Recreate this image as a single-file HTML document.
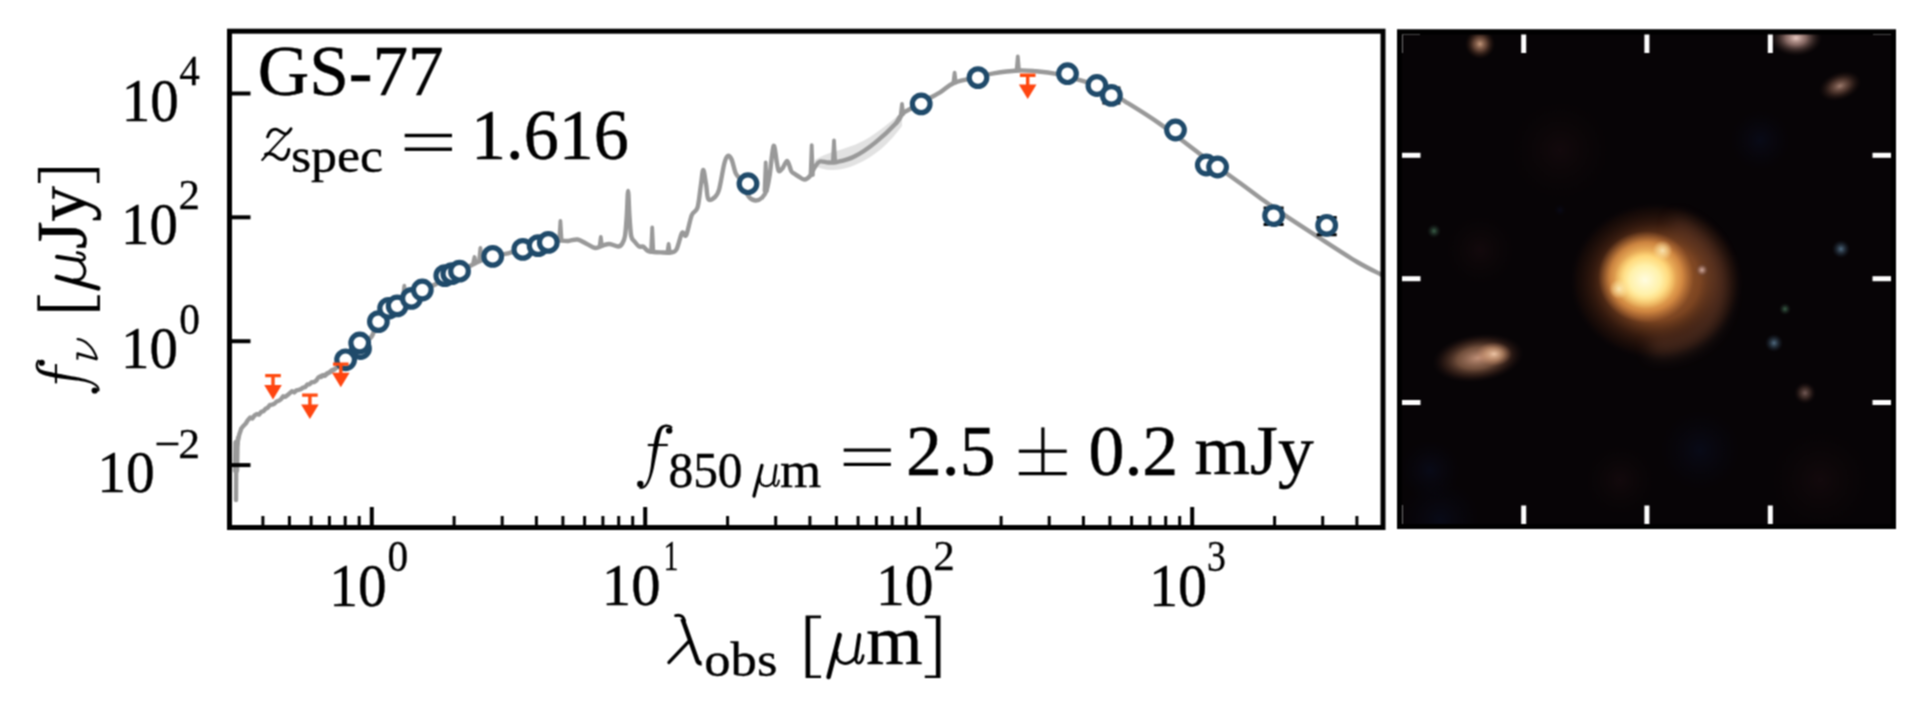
<!DOCTYPE html><html><head><meta charset="utf-8"><style>html,body{margin:0;padding:0;background:#fff;width:1920px;height:704px;overflow:hidden}svg{display:block}text{font-family:"Liberation Serif",serif;fill:#000}</style></head><body>
<svg width="1920" height="704" viewBox="0 0 1920 704">
<defs><filter id="soft" filterUnits="userSpaceOnUse" x="0" y="0" width="1920" height="704" color-interpolation-filters="sRGB"><feConvolveMatrix order="3" kernelMatrix="1 2 1 2 4 2 1 2 1" divisor="16" edgeMode="duplicate"/></filter></defs><g filter="url(#soft)"><rect x="0" y="0" width="1920" height="704" fill="#fff"/>
<path d="M815 160 C830 150 850 150 870 137 C885 127 895 118 902 112 L902 126 C890 142 875 158 850 167 C835 172 822 170 815 166 Z" fill="#e2e2e2"/>
<path d="M237.0 445.3 L239.2 434.8 L241.4 428.3 L243.6 425.7 L245.8 423.5 L248.0 419.9 L250.2 417.6 L252.4 418.4 L254.6 415.4 L256.8 414.0 L259.0 414.6 L261.2 411.8 L263.4 411.2 L265.6 408.8 L267.8 407.7 L270.0 404.9 L272.2 404.6 L274.4 403.7 L276.6 401.5 L278.8 400.7 L281.0 399.2 L283.2 396.3 L285.4 396.8 L287.6 395.1 L289.8 393.1 L292.0 391.3 L294.2 392.4 L296.4 390.3 L298.6 389.8 L300.8 389.2 L303.0 387.6 L305.2 387.1 L307.4 384.5 L309.6 384.3 L311.8 382.1 L314.0 382.1 L316.2 380.7 L318.4 377.4 L320.6 376.3 L322.8 375.2 L325.0 375.9 L327.2 373.3 L329.4 372.5 L331.6 370.4 L333.8 369.7" fill="none" stroke="#999999" stroke-width="4.4" stroke-linejoin="round" stroke-linecap="round"/>
<path d="M236 500 L236.3 450 L238 438" fill="none" stroke="#999999" stroke-width="4.4" stroke-linecap="round"/>
<path d="M236 470 L236.5 443" fill="none" stroke="#999999" stroke-width="6.5" stroke-linecap="round"/>
<path d="M321.0 377.0 C323.2 375.8 329.8 372.4 334.0 369.6 C338.2 366.8 342.0 363.6 346.0 360.0 C350.0 356.4 354.7 351.2 358.0 348.0 C361.3 344.8 363.7 343.0 366.0 341.0 C368.3 339.0 370.0 339.3 372.0 336.0 C374.0 332.7 375.2 325.5 378.0 321.0 C380.8 316.5 385.8 311.7 389.0 309.0 C392.2 306.3 393.3 306.8 397.0 305.0 C400.7 303.2 406.8 300.5 411.0 298.0 C415.2 295.5 417.8 292.3 422.0 290.0 C426.2 287.7 432.2 286.3 436.0 284.0 C439.8 281.7 441.0 278.2 445.0 276.0 C449.0 273.8 454.8 273.2 460.0 271.0 C465.2 268.8 470.5 265.5 476.0 263.0 C481.5 260.5 487.7 257.6 493.0 256.0 C498.3 254.4 503.0 254.6 508.0 253.4 C513.0 252.2 518.0 250.2 523.0 249.0 C528.0 247.8 533.8 247.2 538.0 246.0 C542.2 244.8 545.0 242.9 548.0 242.0 C551.0 241.1 553.9 240.8 556.0 240.5 C558.1 240.2 559.7 240.1 560.4 240.0" fill="none" stroke="#999999" stroke-width="4.4" stroke-linejoin="round" stroke-linecap="round"/>
<path d="M560.4 240.5 C561.7 240.6 565.5 241.2 568.4 241.0 C571.3 240.8 574.5 239.0 577.6 239.5 C580.7 240.0 583.9 242.6 586.9 244.0 C589.9 245.4 592.7 247.8 595.4 248.0 C598.1 248.2 600.8 246.0 603.2 245.3 C605.6 244.6 607.1 243.8 609.6 244.0 C612.1 244.2 616.0 246.5 618.1 246.5 C620.2 246.5 620.9 245.8 622.0 244.0 C623.1 242.2 624.2 240.8 625.0 236.0 C625.8 231.2 626.3 222.5 626.8 215.0 C627.3 207.5 627.7 191.0 628.1 191.0 C628.5 191.0 628.9 207.5 629.4 215.0 C629.9 222.5 630.4 231.6 631.2 236.0 C632.1 240.4 633.1 239.7 634.5 241.5 C635.9 243.3 638.0 245.9 639.4 246.7 C640.8 247.5 641.6 245.8 643.0 246.5 C644.4 247.2 646.2 250.1 648.0 251.0 C649.8 251.9 651.5 251.8 653.6 252.0 C655.7 252.2 657.9 252.3 660.7 252.4 C663.6 252.5 668.1 253.0 670.7 252.5 C673.3 252.0 674.5 252.8 676.4 249.5 C678.3 246.2 680.4 235.4 682.0 233.0 C683.6 230.6 684.7 238.0 686.3 235.0 C687.9 232.0 689.9 219.6 691.8 215.0 C693.7 210.4 696.0 212.7 697.5 207.7 C699.0 202.7 699.9 191.3 700.9 185.0 C701.9 178.7 702.4 170.2 703.2 170.0 C704.1 169.8 705.1 179.2 706.0 184.0 C706.9 188.8 706.9 196.8 708.3 199.0 C709.7 201.2 712.7 199.1 714.5 197.5 C716.3 195.9 717.5 195.1 719.1 189.5 C720.7 183.9 722.8 169.6 724.2 164.0 C725.6 158.4 726.4 156.8 727.6 156.0 C728.8 155.2 730.3 156.7 731.6 159.5 C732.9 162.3 734.3 169.8 735.6 173.0 C736.9 176.2 737.3 174.6 739.5 178.5 C741.7 182.4 745.9 192.8 748.6 196.5 C751.3 200.2 753.2 200.3 755.5 200.5 C757.8 200.7 760.4 199.3 762.3 197.5 C764.2 195.7 765.6 193.2 766.8 189.5 C768.0 185.8 768.6 182.2 769.7 175.0 C770.8 167.8 772.4 147.9 773.6 146.0 C774.8 144.1 776.1 159.2 777.0 163.4 C777.9 167.6 777.8 170.2 778.8 171.0 C779.7 171.8 781.3 169.7 782.7 168.0 C784.1 166.3 785.9 160.5 787.3 161.0 C788.7 161.5 790.1 168.9 791.2 171.0 C792.4 173.1 792.9 172.7 794.1 173.6 C795.3 174.5 796.9 175.5 798.6 176.5 C800.3 177.5 802.4 179.6 804.3 179.5 C806.2 179.4 808.2 178.1 810.0 176.0 C811.8 173.9 813.3 169.4 814.9 167.0 C816.5 164.6 817.5 162.2 819.8 161.5 C822.0 160.8 825.5 162.4 828.4 162.5 C831.2 162.6 832.6 162.9 836.9 162.0 C841.1 161.1 847.5 160.0 853.9 156.8 C860.3 153.6 868.1 148.3 875.2 142.6 C882.3 136.9 892.0 127.5 896.5 122.7 C901.0 117.9 901.1 115.5 902.0 114.0" fill="none" stroke="#999999" stroke-width="4.4" stroke-linejoin="round" stroke-linecap="round"/>
<path d="M896.5 122.7 C897.4 121.2 899.4 116.5 902.0 114.0 C904.6 111.5 908.8 109.9 912.0 108.0 C915.2 106.1 916.6 105.1 921.2 102.5 C925.8 99.9 934.1 95.9 939.7 92.6 C945.3 89.3 948.2 85.2 954.6 82.6 C961.0 80.0 971.5 78.5 978.0 77.0 C984.5 75.5 987.0 74.5 993.6 73.4 C1000.2 72.3 1010.7 70.9 1017.8 70.5 C1024.9 70.1 1029.6 70.7 1036.2 71.2 C1042.9 71.8 1050.5 72.7 1057.6 74.1 C1064.7 75.5 1071.8 77.7 1078.9 79.8 C1086.0 81.9 1092.2 83.2 1100.0 86.9 C1107.8 90.6 1115.8 95.7 1125.7 101.8 C1135.6 107.9 1147.3 115.0 1159.6 123.6 C1171.9 132.2 1185.9 143.6 1199.3 153.5 C1212.7 163.4 1229.3 175.2 1240.0 183.0 C1250.7 190.8 1255.6 194.7 1263.4 200.3 C1271.2 205.9 1277.8 210.6 1286.9 216.7 C1296.0 222.8 1306.3 229.4 1318.0 237.0 C1329.7 244.6 1346.7 255.8 1357.2 262.0 C1367.7 268.2 1377.0 272.4 1381.0 274.5" fill="none" stroke="#999999" stroke-width="4.4" stroke-linejoin="round" stroke-linecap="round"/>
<path d="M403.1 295.0 L404.3 285.7 L405.5 295.0 M473.3 262.0 L474.5 257.0 L475.7 262.0 M479.2 259.0 L480.4 248.0 L481.6 259.0 M559.2 240.0 L560.4 221.0 L561.6 240.0 M599.6 246.0 L600.8 237.0 L602.0 246.0 M651.0 252.0 L652.2 227.5 L653.4 252.0 M667.4 252.0 L668.6 244.0 L669.8 252.0 M764.5 191.0 L765.7 162.3 L766.9 191.0 M810.5 175.0 L811.7 145.2 L812.9 175.0 M832.8 162.0 L834.0 140.5 L835.2 162.0 M900.8 114.0 L902.0 104.0 L903.2 114.0 M953.4 82.6 L954.6 72.7 L955.8 82.6 M1016.6 70.5 L1017.8 56.3 L1019.0 70.5 " fill="none" stroke="#999999" stroke-width="3.8" stroke-linejoin="round" stroke-linecap="round"/>
<rect x="229.5" y="31.2" width="1153.5" height="496.3" fill="none" stroke="#000" stroke-width="5"/>
<line x1="228.7" y1="527" x2="228.7" y2="516" stroke="#000" stroke-width="3"/><line x1="262.9" y1="527" x2="262.9" y2="516" stroke="#000" stroke-width="3"/><line x1="289.4" y1="527" x2="289.4" y2="516" stroke="#000" stroke-width="3"/><line x1="311.1" y1="527" x2="311.1" y2="516" stroke="#000" stroke-width="3"/><line x1="329.4" y1="527" x2="329.4" y2="516" stroke="#000" stroke-width="3"/><line x1="345.2" y1="527" x2="345.2" y2="516" stroke="#000" stroke-width="3"/><line x1="359.2" y1="527" x2="359.2" y2="516" stroke="#000" stroke-width="3"/><line x1="371.8" y1="527" x2="371.8" y2="507" stroke="#000" stroke-width="4"/><line x1="454.1" y1="527" x2="454.1" y2="516" stroke="#000" stroke-width="3"/><line x1="502.2" y1="527" x2="502.2" y2="516" stroke="#000" stroke-width="3"/><line x1="536.4" y1="527" x2="536.4" y2="516" stroke="#000" stroke-width="3"/><line x1="562.9" y1="527" x2="562.9" y2="516" stroke="#000" stroke-width="3"/><line x1="584.6" y1="527" x2="584.6" y2="516" stroke="#000" stroke-width="3"/><line x1="602.9" y1="527" x2="602.9" y2="516" stroke="#000" stroke-width="3"/><line x1="618.7" y1="527" x2="618.7" y2="516" stroke="#000" stroke-width="3"/><line x1="632.7" y1="527" x2="632.7" y2="516" stroke="#000" stroke-width="3"/><line x1="645.2" y1="527" x2="645.2" y2="507" stroke="#000" stroke-width="4"/><line x1="727.6" y1="527" x2="727.6" y2="516" stroke="#000" stroke-width="3"/><line x1="775.7" y1="527" x2="775.7" y2="516" stroke="#000" stroke-width="3"/><line x1="809.9" y1="527" x2="809.9" y2="516" stroke="#000" stroke-width="3"/><line x1="836.4" y1="527" x2="836.4" y2="516" stroke="#000" stroke-width="3"/><line x1="858.1" y1="527" x2="858.1" y2="516" stroke="#000" stroke-width="3"/><line x1="876.4" y1="527" x2="876.4" y2="516" stroke="#000" stroke-width="3"/><line x1="892.2" y1="527" x2="892.2" y2="516" stroke="#000" stroke-width="3"/><line x1="906.2" y1="527" x2="906.2" y2="516" stroke="#000" stroke-width="3"/><line x1="918.8" y1="527" x2="918.8" y2="507" stroke="#000" stroke-width="4"/><line x1="1001.1" y1="527" x2="1001.1" y2="516" stroke="#000" stroke-width="3"/><line x1="1049.2" y1="527" x2="1049.2" y2="516" stroke="#000" stroke-width="3"/><line x1="1083.4" y1="527" x2="1083.4" y2="516" stroke="#000" stroke-width="3"/><line x1="1109.9" y1="527" x2="1109.9" y2="516" stroke="#000" stroke-width="3"/><line x1="1131.6" y1="527" x2="1131.6" y2="516" stroke="#000" stroke-width="3"/><line x1="1149.9" y1="527" x2="1149.9" y2="516" stroke="#000" stroke-width="3"/><line x1="1165.7" y1="527" x2="1165.7" y2="516" stroke="#000" stroke-width="3"/><line x1="1179.7" y1="527" x2="1179.7" y2="516" stroke="#000" stroke-width="3"/><line x1="1192.2" y1="527" x2="1192.2" y2="507" stroke="#000" stroke-width="4"/><line x1="1274.6" y1="527" x2="1274.6" y2="516" stroke="#000" stroke-width="3"/><line x1="1322.7" y1="527" x2="1322.7" y2="516" stroke="#000" stroke-width="3"/><line x1="1356.9" y1="527" x2="1356.9" y2="516" stroke="#000" stroke-width="3"/><line x1="1383.4" y1="527" x2="1383.4" y2="516" stroke="#000" stroke-width="3"/><line x1="231" y1="465.1" x2="250.5" y2="465.1" stroke="#000" stroke-width="4"/><line x1="231" y1="341.2" x2="250.5" y2="341.2" stroke="#000" stroke-width="4"/><line x1="231" y1="217.3" x2="250.5" y2="217.3" stroke="#000" stroke-width="4"/><line x1="231" y1="93.5" x2="250.5" y2="93.5" stroke="#000" stroke-width="4"/>
<text transform="matrix(1.0000 0 0 1.0000 0.30 -0.25) matrix(0.5708 0 0 0.6103 121.33 120.78)" x="0" y="0" font-size="100" stroke="#000" stroke-width="0.7" >10</text>
<text transform="matrix(1.0000 0 0 1.0000 0.05 0.00) matrix(0.4106 0 0 0.4303 179.08 84.77)" x="0" y="0" font-size="100" stroke="#000" stroke-width="0.7" >4</text>
<text transform="matrix(1.0000 0 0 1.0000 -0.30 -0.60) matrix(0.5685 0 0 0.5971 121.35 244.51)" x="0" y="0" font-size="100" stroke="#000" stroke-width="0.7" >10</text>
<text transform="matrix(1.0000 0 0 1.0000 -0.20 0.18) matrix(0.4293 0 0 0.4157 178.78 208.68)" x="0" y="0" font-size="100" stroke="#000" stroke-width="0.7" >2</text>
<text transform="matrix(1.0000 0 0 1.0000 -0.30 -1.05) matrix(0.5685 0 0 0.6015 121.35 368.70)" x="0" y="0" font-size="100" stroke="#000" stroke-width="0.7" >10</text>
<text transform="matrix(1.0000 0 0 1.0357 -0.40 -11.29) matrix(0.4136 0 0 0.4265 179.76 333.25)" x="0" y="0" font-size="100" stroke="#000" stroke-width="0.7" >0</text>
<text transform="matrix(1.0000 0 0 1.0000 0.00 -0.70) matrix(0.5753 0 0 0.5971 97.30 492.41)" x="0" y="0" font-size="100" stroke="#000" stroke-width="0.7" >10</text>
<text transform="matrix(1.0000 0 0 1.0000 0.25 -0.10) matrix(0.4366 0 0 0.4239 178.05 457.68)" x="0" y="0" font-size="100" stroke="#000" stroke-width="0.7" >2</text>
<text transform="matrix(1.0000 0 0 1.0000 -0.25 0.20) matrix(0.5742 0 0 0.6059 329.61 605.59)" x="0" y="0" font-size="100" stroke="#000" stroke-width="0.7" >10</text>
<text transform="matrix(1.0000 0 0 1.0357 -0.60 -19.66) matrix(0.4136 0 0 0.4265 388.06 569.85)" x="0" y="0" font-size="100" stroke="#000" stroke-width="0.7" >0</text>
<text transform="matrix(1.0220 0 0 1.0000 -14.38 -0.45) matrix(0.5742 0 0 0.6015 602.91 605.30)" x="0" y="0" font-size="100" stroke="#000" stroke-width="0.7" >10</text>
<text transform="matrix(1.0000 0 0 1.0000 -0.10 -0.30) matrix(0.3000 0 0 0.4212 663.60 570.10)" x="0" y="0" font-size="100" stroke="#000" stroke-width="0.7" >1</text>
<text transform="matrix(1.0000 0 0 1.0000 -0.15 -0.45) matrix(0.5742 0 0 0.6015 876.21 605.30)" x="0" y="0" font-size="100" stroke="#000" stroke-width="0.7" >10</text>
<text transform="matrix(1.0000 0 0 1.0000 -0.35 0.20) matrix(0.4317 0 0 0.4149 933.57 569.69)" x="0" y="0" font-size="100" stroke="#000" stroke-width="0.7" >2</text>
<text transform="matrix(1.0000 0 0 1.0000 -0.05 0.20) matrix(0.5809 0 0 0.6059 1148.95 605.59)" x="0" y="0" font-size="100" stroke="#000" stroke-width="0.7" >10</text>
<text transform="matrix(1.0000 0 0 1.0000 -0.75 0.70) matrix(0.3786 0 0 0.4328 1207.79 570.27)" x="0" y="0" font-size="100" stroke="#000" stroke-width="0.7" >3</text>
<text transform="matrix(1.0000 0 0 0.9622 0.20 24.92) matrix(0.5263 0 0 0.5086 704.12 676.29)" x="0" y="0" font-size="100" stroke="#000" stroke-width="0.7" >obs</text>
<text transform="matrix(1.0000 0 0 1.0000 0.15 -0.40) matrix(0.7240 0 0 0.7064 866.05 664.20)" x="0" y="0" font-size="100" stroke="#000" stroke-width="0.7" >m</text>
<text transform="matrix(1.0000 0 0 1.0000 -0.30 0.15) rotate(-90) matrix(0.7092 0 0 0.7279 -248.92 86.21)" x="0" y="0" font-size="100" stroke="#000" stroke-width="0.7" >Jy</text>
<text transform="matrix(1.0000 0 0 0.9765 0.20 1.56) matrix(0.7122 0 0 0.7324 257.55 95.34)" x="0" y="0" font-size="100" stroke="#000" stroke-width="0.7" >GS-77</text>
<text transform="matrix(1.0000 0 0 1.0000 0.20 0.20) matrix(0.5193 0 0 0.4882 290.72 171.55)" x="0" y="0" font-size="100" stroke="#000" stroke-width="0.7" >spec</text>
<text transform="matrix(1.0000 0 0 1.0000 -0.40 -0.55) matrix(0.7019 0 0 0.7279 471.39 159.24)" x="0" y="0" font-size="100" stroke="#000" stroke-width="0.7" >1.616</text>
<text transform="matrix(1.0000 0 0 1.0000 0.00 -0.15) matrix(0.4944 0 0 0.5074 668.42 487.09)" x="0" y="0" font-size="100" stroke="#000" stroke-width="0.7" >850</text>
<text transform="matrix(1.0000 0 0 1.0000 -0.50 -0.60) matrix(0.5307 0 0 0.5149 780.54 487.50)" x="0" y="0" font-size="100" stroke="#000" stroke-width="0.7" >m</text>
<text transform="matrix(1.0000 0 0 0.9706 0.15 13.20) matrix(0.7154 0 0 0.7388 905.94 475.46)" x="0" y="0" font-size="100" stroke="#000" stroke-width="0.7" >2.5</text>
<text transform="matrix(1.0000 0 0 1.0000 -0.43 0.30) matrix(0.7175 0 0 0.7235 1088.95 474.45)" x="0" y="0" font-size="100" stroke="#000" stroke-width="0.7" >0.2</text>
<text transform="matrix(1.0000 0 0 0.9677 -0.55 14.16) matrix(0.7145 0 0 0.7314 1195.07 474.94)" x="0" y="0" font-size="100" stroke="#000" stroke-width="0.7" >mJy</text>
<g transform="translate(636.6 424.1)"><path d="M36.03 3.32 L35.74 2.91 L35.36 2.48 L34.93 2.09 L34.47 1.75 L33.96 1.45 L33.42 1.19 L32.85 0.97 L32.26 0.79 L31.65 0.65 L31.02 0.55 L30.37 0.49 L29.71 0.47 L29.04 0.50 L28.36 0.57 L27.68 0.69 L26.99 0.86 L26.30 1.09 L25.62 1.37 L24.95 1.72 L24.30 2.13 L23.67 2.61 L23.06 3.16 L22.49 3.79 L21.99 4.46 L21.53 5.16 L21.08 5.98 L20.65 6.89 L20.24 7.89 L19.84 8.98 L19.45 10.16 L19.07 11.42 L18.71 12.77 L18.36 14.20 L18.02 15.69 L17.69 17.26 L17.38 18.89 L17.08 20.58 L16.79 22.32 L16.51 24.12 L16.24 25.95 L15.98 27.83 L15.72 29.74 L15.47 31.68 L15.23 33.65 L14.99 35.63 L14.75 37.63 L14.50 39.63 L14.27 41.63 L14.02 43.45 L13.74 45.21 L13.45 46.89 L13.13 48.50 L12.78 50.04 L12.41 51.49 L12.02 52.87 L11.61 54.16 L11.18 55.37 L10.72 56.49 L10.25 57.53 L9.76 58.47 L9.26 59.32 L8.74 60.07 L8.21 60.72 L7.68 61.28 L7.14 61.74 L6.60 62.10 L6.06 62.38 L5.52 62.56 L4.98 62.66 L4.42 62.68 L3.83 62.61 L3.16 62.43 L2.64 64.37 L3.45 64.58 L4.32 64.69 L5.18 64.67 L6.02 64.53 L6.84 64.26 L7.62 63.88 L8.37 63.40 L9.09 62.82 L9.77 62.14 L10.43 61.37 L11.06 60.52 L11.66 59.58 L12.25 58.56 L12.82 57.46 L13.36 56.27 L13.89 55.01 L14.41 53.66 L14.90 52.24 L15.38 50.75 L15.85 49.18 L16.29 47.53 L16.73 45.82 L17.14 44.03 L17.53 42.17 L17.92 40.17 L18.30 38.19 L18.69 36.22 L19.07 34.26 L19.45 32.33 L19.83 30.42 L20.21 28.54 L20.58 26.70 L20.94 24.90 L21.29 23.14 L21.64 21.43 L21.97 19.78 L22.30 18.19 L22.61 16.67 L22.92 15.22 L23.21 13.84 L23.50 12.55 L23.77 11.34 L24.04 10.23 L24.30 9.22 L24.54 8.32 L24.78 7.54 L25.00 6.88 L25.21 6.34 L25.45 5.82 L25.70 5.37 L25.99 4.95 L26.31 4.56 L26.67 4.21 L27.06 3.90 L27.47 3.62 L27.91 3.38 L28.38 3.18 L28.85 3.02 L29.34 2.90 L29.84 2.83 L30.33 2.79 L30.82 2.79 L31.30 2.82 L31.77 2.90 L32.21 3.00 L32.62 3.14 L33.01 3.30 L33.36 3.49 L33.66 3.70 L33.93 3.93 L34.15 4.17 L34.37 4.48 Z" fill="#000"/><circle cx="32.60" cy="6.50" r="3.2" fill="#000"/><circle cx="3.70" cy="59.90" r="3.2" fill="#000"/><rect x="11.20" y="19.80" width="20" height="2.2" fill="#000"/></g>
<g transform="rotate(-90) translate(-394.1 35.2) scale(0.9614 0.9939)"><path d="M36.03 3.32 L35.74 2.91 L35.36 2.48 L34.93 2.09 L34.47 1.75 L33.96 1.45 L33.42 1.19 L32.85 0.97 L32.26 0.79 L31.65 0.65 L31.02 0.55 L30.37 0.49 L29.71 0.47 L29.04 0.50 L28.36 0.57 L27.68 0.69 L26.99 0.86 L26.30 1.09 L25.62 1.37 L24.95 1.72 L24.30 2.13 L23.67 2.61 L23.06 3.16 L22.49 3.79 L21.99 4.46 L21.53 5.16 L21.08 5.98 L20.65 6.89 L20.24 7.89 L19.84 8.98 L19.45 10.16 L19.07 11.42 L18.71 12.77 L18.36 14.20 L18.02 15.69 L17.69 17.26 L17.38 18.89 L17.08 20.58 L16.79 22.32 L16.51 24.12 L16.24 25.95 L15.98 27.83 L15.72 29.74 L15.47 31.68 L15.23 33.65 L14.99 35.63 L14.75 37.63 L14.50 39.63 L14.27 41.63 L14.02 43.45 L13.74 45.21 L13.45 46.89 L13.13 48.50 L12.78 50.04 L12.41 51.49 L12.02 52.87 L11.61 54.16 L11.18 55.37 L10.72 56.49 L10.25 57.53 L9.76 58.47 L9.26 59.32 L8.74 60.07 L8.21 60.72 L7.68 61.28 L7.14 61.74 L6.60 62.10 L6.06 62.38 L5.52 62.56 L4.98 62.66 L4.42 62.68 L3.83 62.61 L3.16 62.43 L2.64 64.37 L3.45 64.58 L4.32 64.69 L5.18 64.67 L6.02 64.53 L6.84 64.26 L7.62 63.88 L8.37 63.40 L9.09 62.82 L9.77 62.14 L10.43 61.37 L11.06 60.52 L11.66 59.58 L12.25 58.56 L12.82 57.46 L13.36 56.27 L13.89 55.01 L14.41 53.66 L14.90 52.24 L15.38 50.75 L15.85 49.18 L16.29 47.53 L16.73 45.82 L17.14 44.03 L17.53 42.17 L17.92 40.17 L18.30 38.19 L18.69 36.22 L19.07 34.26 L19.45 32.33 L19.83 30.42 L20.21 28.54 L20.58 26.70 L20.94 24.90 L21.29 23.14 L21.64 21.43 L21.97 19.78 L22.30 18.19 L22.61 16.67 L22.92 15.22 L23.21 13.84 L23.50 12.55 L23.77 11.34 L24.04 10.23 L24.30 9.22 L24.54 8.32 L24.78 7.54 L25.00 6.88 L25.21 6.34 L25.45 5.82 L25.70 5.37 L25.99 4.95 L26.31 4.56 L26.67 4.21 L27.06 3.90 L27.47 3.62 L27.91 3.38 L28.38 3.18 L28.85 3.02 L29.34 2.90 L29.84 2.83 L30.33 2.79 L30.82 2.79 L31.30 2.82 L31.77 2.90 L32.21 3.00 L32.62 3.14 L33.01 3.30 L33.36 3.49 L33.66 3.70 L33.93 3.93 L34.15 4.17 L34.37 4.48 Z" fill="#000"/><circle cx="32.60" cy="6.50" r="3.2" fill="#000"/><circle cx="3.70" cy="59.90" r="3.2" fill="#000"/><rect x="11.20" y="19.80" width="20" height="2.2" fill="#000"/></g>
<path d="M805.6 615.6 H821 V618.3 H810.2 V675.4 H821 V678.1 H805.6 Z" fill="#000"/>
<path d="M940.5 615.6 H924.8 V618.3 H935.9 V675.4 H924.8 V678.1 H940.5 Z" fill="#000"/>
<path d="M839.6 634.9 L828.6 677" stroke="#000" stroke-width="4.6" stroke-linecap="round" fill="none"/><path d="M836.9 651.5 C834.8 664 847.5 667.5 855.3 657.5" stroke="#000" stroke-width="3.0" fill="none"/><path d="M859.3 635 L856 657" stroke="#000" stroke-width="3.9" stroke-linecap="round" fill="none"/><path d="M856 657 C854.8 665 861.5 666 863.2 655.5" stroke="#000" stroke-width="2.7" stroke-linecap="round" fill="none"/>
<path d="M675.6 615.6 C679.8 614.6 683.2 616.2 684.6 620.6" stroke="#000" stroke-width="2.9" stroke-linecap="round" fill="none"/><path d="M682.4 618.8 L697.6 661.2 C698.4 663 700 663.4 701.6 663.2" stroke="#000" stroke-width="4.4" fill="none"/><path d="M688.6 641.6 L669 662.4" stroke="#000" stroke-width="3.4" stroke-linecap="round" fill="none"/>
<path d="M77.6 339.2 C84.5 340 93 346 96.8 358.4" stroke="#000" stroke-width="2.2" stroke-linecap="round" fill="none"/>
<path d="M77.2 353.6 L97.4 359.2" stroke="#000" stroke-width="2.7" fill="none"/>
<path d="M77.4 352.6 L77.4 359.6" stroke="#000" stroke-width="2.0" fill="none"/>
<path d="M267.6 136.8 C269.3 131 273 128.3 276.6 129.4 C280.2 130.6 283 134.3 286 133.9 C288 133.6 289.6 131 291 128.8" stroke="#000" stroke-width="3.0" stroke-linecap="round" fill="none"/>
<path d="M290.6 129.4 L262.2 160" stroke="#000" stroke-width="2.0" stroke-linecap="round" fill="none"/>
<path d="M265.6 154.4 C269.8 152.6 273.2 154 276.6 157.2 C279.6 159.8 283.2 160.4 285.6 157.6 C287.6 155.2 288.6 151.8 288.8 149.6" stroke="#000" stroke-width="3.2" stroke-linecap="round" fill="none"/>
<g transform="rotate(-90) translate(-310.70 37.30) scale(1.0000 1.0032) translate(-805.60 -615.60)"><path d="M805.6 615.6 H821 V618.3 H810.2 V675.4 H821 V678.1 H805.6 Z" fill="#000"/></g>
<g transform="rotate(-90) translate(-182.90 37.90) scale(0.9490 0.9856) translate(-924.80 -615.60)"><path d="M940.5 615.6 H924.8 V618.3 H935.9 V675.4 H924.8 V678.1 H940.5 Z" fill="#000"/></g>
<g transform="rotate(-90) translate(-291.20 54.80) scale(1.0285 0.9828) translate(-825.80 -632.80)"><path d="M839.6 634.9 L828.6 677" stroke="#000" stroke-width="4.6" stroke-linecap="round" fill="none"/><path d="M836.9 651.5 C834.8 664 847.5 667.5 855.3 657.5" stroke="#000" stroke-width="3.0" fill="none"/><path d="M859.3 635 L856 657" stroke="#000" stroke-width="3.9" stroke-linecap="round" fill="none"/><path d="M856 657 C854.8 665 861.5 666 863.2 655.5" stroke="#000" stroke-width="2.7" stroke-linecap="round" fill="none"/></g>
<g transform="translate(752.00 463.90) scale(0.7202 0.7269) translate(-825.80 -632.80)"><path d="M839.6 634.9 L828.6 677" stroke="#000" stroke-width="4.6" stroke-linecap="round" fill="none"/><path d="M836.9 651.5 C834.8 664 847.5 667.5 855.3 657.5" stroke="#000" stroke-width="3.0" fill="none"/><path d="M859.3 635 L856 657" stroke="#000" stroke-width="3.9" stroke-linecap="round" fill="none"/><path d="M856 657 C854.8 665 861.5 666 863.2 655.5" stroke="#000" stroke-width="2.7" stroke-linecap="round" fill="none"/></g>
<rect x="156.5" y="442.6" width="21.9" height="2.7" fill="#000"/>
<rect x="404.7" y="133.8" width="47.3" height="3.4" fill="#000"/><rect x="404.7" y="147.5" width="47.3" height="3.4" fill="#000"/>
<rect x="843.7" y="448.5" width="47.2" height="3.2" fill="#000"/><rect x="843.7" y="462.8" width="47.2" height="3.2" fill="#000"/>
<rect x="1018.8" y="449.6" width="47.9" height="3.2" fill="#000"/><rect x="1018.8" y="472.0" width="47.9" height="3.2" fill="#000"/><rect x="1041.3" y="427.4" width="3.2" height="46" fill="#000"/>
<path d="M1263.6 208.0 H1283.6 M1263.6 224.5 H1283.6 M1273.6 208.0 V224.5" stroke="#000" stroke-width="3" fill="none"/>
<path d="M1316.7 217.5 H1336.7 M1316.7 234.7 H1336.7 M1326.7 217.5 V234.7" stroke="#000" stroke-width="3" fill="none"/>
<path d="M1102.4 88.0 H1120.4 M1102.4 103.0 H1120.4 M1111.4 88.0 V103.0" stroke="#000" stroke-width="3" fill="none"/>
<circle cx="345.6" cy="359.8" r="8.8" fill="#fff" stroke="#1f4a6a" stroke-width="5.2"/>
<circle cx="360.5" cy="348.5" r="8.8" fill="#fff" stroke="#1f4a6a" stroke-width="5.2"/>
<circle cx="359.7" cy="343.0" r="8.8" fill="#fff" stroke="#1f4a6a" stroke-width="5.2"/>
<circle cx="378.4" cy="321.6" r="8.8" fill="#fff" stroke="#1f4a6a" stroke-width="5.2"/>
<circle cx="388.6" cy="308.3" r="8.8" fill="#fff" stroke="#1f4a6a" stroke-width="5.2"/>
<circle cx="397.2" cy="305.9" r="8.8" fill="#fff" stroke="#1f4a6a" stroke-width="5.2"/>
<circle cx="411.4" cy="298.4" r="8.8" fill="#fff" stroke="#1f4a6a" stroke-width="5.2"/>
<circle cx="422.3" cy="290.0" r="8.8" fill="#fff" stroke="#1f4a6a" stroke-width="5.2"/>
<circle cx="444.8" cy="275.6" r="8.8" fill="#fff" stroke="#1f4a6a" stroke-width="5.2"/>
<circle cx="451.8" cy="273.7" r="8.8" fill="#fff" stroke="#1f4a6a" stroke-width="5.2"/>
<circle cx="459.5" cy="271.2" r="8.8" fill="#fff" stroke="#1f4a6a" stroke-width="5.2"/>
<circle cx="492.7" cy="256.4" r="8.8" fill="#fff" stroke="#1f4a6a" stroke-width="5.2"/>
<circle cx="522.8" cy="249.4" r="8.8" fill="#fff" stroke="#1f4a6a" stroke-width="5.2"/>
<circle cx="538.1" cy="245.6" r="8.8" fill="#fff" stroke="#1f4a6a" stroke-width="5.2"/>
<circle cx="548.3" cy="242.4" r="8.8" fill="#fff" stroke="#1f4a6a" stroke-width="5.2"/>
<circle cx="748.0" cy="183.7" r="8.8" fill="#fff" stroke="#1f4a6a" stroke-width="5.2"/>
<circle cx="921.2" cy="103.9" r="8.8" fill="#fff" stroke="#1f4a6a" stroke-width="5.2"/>
<circle cx="978.0" cy="77.6" r="8.8" fill="#fff" stroke="#1f4a6a" stroke-width="5.2"/>
<circle cx="1067.5" cy="73.7" r="8.8" fill="#fff" stroke="#1f4a6a" stroke-width="5.2"/>
<circle cx="1096.9" cy="85.5" r="8.8" fill="#fff" stroke="#1f4a6a" stroke-width="5.2"/>
<circle cx="1111.4" cy="95.4" r="8.8" fill="#fff" stroke="#1f4a6a" stroke-width="5.2"/>
<circle cx="1175.5" cy="130.0" r="8.8" fill="#fff" stroke="#1f4a6a" stroke-width="5.2"/>
<circle cx="1206.3" cy="165.0" r="8.8" fill="#fff" stroke="#1f4a6a" stroke-width="5.2"/>
<circle cx="1217.6" cy="167.0" r="8.8" fill="#fff" stroke="#1f4a6a" stroke-width="5.2"/>
<circle cx="1273.6" cy="215.6" r="8.8" fill="#fff" stroke="#1f4a6a" stroke-width="5.2"/>
<circle cx="1326.7" cy="225.3" r="8.8" fill="#fff" stroke="#1f4a6a" stroke-width="5.2"/>
<path d="M265.2 375.6 H280.8 M273.0 375.6 V388.8" stroke="#ff4a0f" stroke-width="3.4" fill="none"/>
<path d="M264.2 385.0 L281.8 385.0 L273.0 399.6 Z" fill="#ff4510"/>
<path d="M302.1 395.1 H317.7 M309.9 395.1 V408.3" stroke="#ff4a0f" stroke-width="3.4" fill="none"/>
<path d="M301.1 404.5 L318.7 404.5 L309.9 419.1 Z" fill="#ff4510"/>
<path d="M333.0 364.1 H348.6 M340.8 364.1 V376.5" stroke="#ff4a0f" stroke-width="3.4" fill="none"/>
<path d="M332.0 372.7 L349.6 372.7 L340.8 387.3 Z" fill="#ff4510"/>
<path d="M1019.9 75.2 H1035.5 M1027.7 75.2 V88.2" stroke="#ff4a0f" stroke-width="3.4" fill="none"/>
<path d="M1018.9 84.4 L1036.5 84.4 L1027.7 99.0 Z" fill="#ff4510"/>
<defs>
<filter id="bl2" x="-50%" y="-50%" width="200%" height="200%"><feGaussianBlur stdDeviation="3"/></filter>
<filter id="bl4" x="-50%" y="-50%" width="200%" height="200%"><feGaussianBlur stdDeviation="5"/></filter>
<filter id="bl8" x="-50%" y="-50%" width="200%" height="200%"><feGaussianBlur stdDeviation="8"/></filter>
<clipPath id="cp"><rect x="1399.5" y="32" width="494" height="494.5"/></clipPath>
<radialGradient id="halo"><stop offset="0" stop-color="#c07838" stop-opacity="1"/><stop offset="0.5" stop-color="#985428" stop-opacity="0.8"/><stop offset="0.72" stop-color="#4a2412" stop-opacity="0.65"/><stop offset="0.9" stop-color="#200e08" stop-opacity="0.45"/><stop offset="1" stop-color="#060308" stop-opacity="0"/></radialGradient>
<radialGradient id="inner"><stop offset="0" stop-color="#ffe890" stop-opacity="1"/><stop offset="0.45" stop-color="#ffd070" stop-opacity="1"/><stop offset="0.75" stop-color="#e89a4a" stop-opacity="0.75"/><stop offset="1" stop-color="#d08040" stop-opacity="0"/></radialGradient>
<radialGradient id="core"><stop offset="0" stop-color="#fffce0" stop-opacity="1"/><stop offset="0.5" stop-color="#fff4b0" stop-opacity="0.9"/><stop offset="1" stop-color="#ffe080" stop-opacity="0"/></radialGradient>
<radialGradient id="knot"><stop offset="0" stop-color="#fff4c8" stop-opacity="0.8"/><stop offset="0.5" stop-color="#ffe8a8" stop-opacity="0.5"/><stop offset="1" stop-color="#ffe0a0" stop-opacity="0"/></radialGradient>
<radialGradient id="lg"><stop offset="0" stop-color="#c09078" stop-opacity="1"/><stop offset="0.45" stop-color="#8a6048" stop-opacity="0.8"/><stop offset="0.75" stop-color="#4a2c20" stop-opacity="0.5"/><stop offset="1" stop-color="#201010" stop-opacity="0"/></radialGradient>
<radialGradient id="lgc"><stop offset="0" stop-color="#f8d0b0" stop-opacity="0.9"/><stop offset="0.5" stop-color="#e0a880" stop-opacity="0.55"/><stop offset="1" stop-color="#c08060" stop-opacity="0"/></radialGradient>
<radialGradient id="og"><stop offset="0" stop-color="#d8a888" stop-opacity="0.9"/><stop offset="0.45" stop-color="#986850" stop-opacity="0.6"/><stop offset="1" stop-color="#402010" stop-opacity="0"/></radialGradient>
<radialGradient id="og2"><stop offset="0" stop-color="#b89080" stop-opacity="0.85"/><stop offset="0.45" stop-color="#805848" stop-opacity="0.55"/><stop offset="1" stop-color="#301810" stop-opacity="0"/></radialGradient>
<radialGradient id="pk"><stop offset="0" stop-color="#e8c8c0" stop-opacity="1"/><stop offset="0.4" stop-color="#b89088" stop-opacity="0.7"/><stop offset="1" stop-color="#402820" stop-opacity="0"/></radialGradient>
<radialGradient id="lav"><stop offset="0" stop-color="#c8b0c8" stop-opacity="1"/><stop offset="0.4" stop-color="#907080" stop-opacity="0.6"/><stop offset="1" stop-color="#402830" stop-opacity="0"/></radialGradient>
<radialGradient id="bl"><stop offset="0" stop-color="#5a7890" stop-opacity="0.9"/><stop offset="1" stop-color="#203040" stop-opacity="0"/></radialGradient>
<radialGradient id="gr"><stop offset="0" stop-color="#406a50" stop-opacity="0.9"/><stop offset="1" stop-color="#203028" stop-opacity="0"/></radialGradient>
<radialGradient id="bl2"><stop offset="0" stop-color="#3a4a58" stop-opacity="0.7"/><stop offset="1" stop-color="#202830" stop-opacity="0"/></radialGradient>
<radialGradient id="pk3"><stop offset="0" stop-color="#806460" stop-opacity="0.9"/><stop offset="0.5" stop-color="#503830" stop-opacity="0.6"/><stop offset="1" stop-color="#201010" stop-opacity="0"/></radialGradient>
<radialGradient id="dim"><stop offset="0" stop-color="#1a0c10" stop-opacity="0.6"/><stop offset="1" stop-color="#100808" stop-opacity="0"/></radialGradient>
<radialGradient id="dimb"><stop offset="0" stop-color="#0a1028" stop-opacity="0.5"/><stop offset="1" stop-color="#080818" stop-opacity="0"/></radialGradient>
</defs>
<rect x="1397" y="29.5" width="499" height="499.5" fill="#070406"/>
<g clip-path="url(#cp)">
<circle cx="1440" cy="520" r="40" fill="url(#dimb)"/>
<circle cx="1560" cy="150" r="50" fill="url(#dim)"/>
<circle cx="1820" cy="480" r="50" fill="url(#dim)"/>
<circle cx="1700" cy="450" r="40" fill="url(#dimb)"/>
<circle cx="1480" cy="250" r="35" fill="url(#dim)"/>
<circle cx="1620" cy="480" r="35" fill="url(#dim)"/>
<circle cx="1760" cy="140" r="30" fill="url(#dimb)"/>
<circle cx="1430" cy="470" r="30" fill="url(#dimb)"/>
<ellipse cx="1656" cy="281" rx="88" ry="80" fill="url(#halo)"/>
<ellipse cx="1646" cy="277" rx="48" ry="46" fill="url(#inner)"/>
<ellipse cx="1645" cy="280" rx="31" ry="29" fill="url(#core)"/>
<path d="M1672 224 C1712 236 1730 280 1712 318 C1700 340 1672 350 1650 346" fill="none" stroke="#a86848" stroke-width="18" opacity="0.3" filter="url(#bl8)"/>
<circle cx="1662.5" cy="250.5" r="10" fill="url(#knot)"/>
<circle cx="1619" cy="289" r="10" fill="url(#knot)"/>
<circle cx="1702" cy="270" r="7" fill="url(#pk)" opacity="0.8"/>
<ellipse cx="1478" cy="358" rx="46" ry="24" fill="url(#lg)" transform="rotate(-8 1478 358)"/>
<ellipse cx="1494" cy="354" rx="18" ry="12" fill="url(#lgc)"/>
<circle cx="1480" cy="44" r="15" fill="url(#og)"/>
<ellipse cx="1796" cy="38" rx="26" ry="18" fill="url(#pk)"/>
<ellipse cx="1840" cy="86" rx="22" ry="14" fill="url(#og2)" transform="rotate(-20 1840 86)"/>
<circle cx="1841" cy="249" r="9" fill="url(#bl)"/>
<circle cx="1774" cy="343" r="9" fill="url(#bl)"/>
<circle cx="1805" cy="354" r="14" fill="url(#bl2)"/>
<circle cx="1785" cy="309" r="6" fill="url(#gr)"/>
<circle cx="1805" cy="393" r="11" fill="url(#pk3)"/>
<circle cx="1434" cy="231" r="7" fill="url(#gr)"/>
<circle cx="1560" cy="210" r="6" fill="url(#dimb)"/>
</g>
<line x1="1523.7" y1="34" x2="1523.7" y2="53" stroke="#fff" stroke-width="5"/><line x1="1523.7" y1="505.5" x2="1523.7" y2="524.5" stroke="#fff" stroke-width="5"/><line x1="1646.9" y1="34" x2="1646.9" y2="53" stroke="#fff" stroke-width="5"/><line x1="1646.9" y1="505.5" x2="1646.9" y2="524.5" stroke="#fff" stroke-width="5"/><line x1="1770.3" y1="34" x2="1770.3" y2="53" stroke="#fff" stroke-width="5"/><line x1="1770.3" y1="505.5" x2="1770.3" y2="524.5" stroke="#fff" stroke-width="5"/><line x1="1401.5" y1="155.3" x2="1420.5" y2="155.3" stroke="#fff" stroke-width="5"/><line x1="1872.5" y1="155.3" x2="1891.5" y2="155.3" stroke="#fff" stroke-width="5"/><line x1="1401.5" y1="278.7" x2="1420.5" y2="278.7" stroke="#fff" stroke-width="5"/><line x1="1872.5" y1="278.7" x2="1891.5" y2="278.7" stroke="#fff" stroke-width="5"/><line x1="1401.5" y1="402.5" x2="1420.5" y2="402.5" stroke="#fff" stroke-width="5"/><line x1="1872.5" y1="402.5" x2="1891.5" y2="402.5" stroke="#fff" stroke-width="5"/>
<path d="M1402 53 V34.2 H1420 M1873 34.2 H1891.7 V53 M1402 505 V524.5 H1420 M1873 524.5 H1891.7 V505" stroke="#bbb" stroke-width="1.2" fill="none"/>
<rect x="1399.5" y="32" width="494" height="494.5" fill="none" stroke="#000" stroke-width="5"/>
</g></svg></body></html>
